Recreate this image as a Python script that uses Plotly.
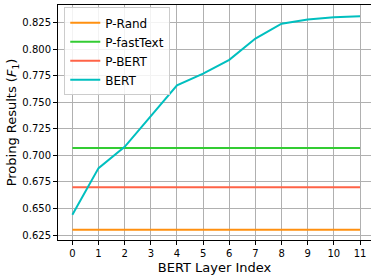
import plotly.graph_objects as go

layers = list(range(12))
bert = [0.644, 0.688, 0.708, 0.737, 0.766, 0.777, 0.790, 0.810, 0.824, 0.828, 0.830, 0.831]
p_rand = [0.630] * 12
p_fasttext = [0.707] * 12
p_bert = [0.670] * 12

series = [
    ("P-Rand", p_rand, "#ff9010"),
    ("P-fastText", p_fasttext, "#33cc33"),
    ("P-BERT", p_bert, "#ff6347"),
    ("BERT", bert, "#00bfbf"),
]

y_ticks = [0.625, 0.650, 0.675, 0.700, 0.725, 0.750, 0.775, 0.800, 0.825]

fig = go.Figure()
for name, vals, col in series:
    fig.add_trace(go.Scatter(x=layers, y=vals, mode="lines", name=name,
                             line=dict(color=col, width=2)))

font_family = "DejaVu Sans"
fig.update_layout(
    width=371, height=275,
    margin=dict(l=58, r=0, t=5, b=35, autoexpand=False),
    paper_bgcolor="white", plot_bgcolor="white",
    font=dict(family=font_family, color="black", size=10),
    showlegend=True,
    legend=dict(x=0.02, y=0.99, xanchor="left", yanchor="top",
                bgcolor="rgba(255,255,255,0.85)", bordercolor="#cccccc", borderwidth=1,
                font=dict(size=12, family=font_family), tracegroupgap=0),
    xaxis=dict(range=[-0.55, 11.42], tickmode="array", tickvals=layers,
               ticktext=[str(v) for v in layers], automargin=False,
               showgrid=True, gridcolor="#b0b0b0", gridwidth=1,
               showline=True, linecolor="black", linewidth=1, mirror=True,
               ticks="outside", ticklen=4, tickcolor="black", zeroline=False,
               tickfont=dict(size=10),
               title=dict(text="BERT Layer Index", font=dict(size=13), standoff=4)),
    yaxis=dict(range=[0.6203, 0.8416], tickmode="array", tickvals=y_ticks,
               ticktext=[f"{v:.3f}" for v in y_ticks], automargin=False,
               showgrid=True, gridcolor="#b0b0b0", gridwidth=1,
               showline=True, linecolor="black", linewidth=1, mirror=False,
               ticks="outside", ticklen=4, tickcolor="black", zeroline=False,
               tickfont=dict(size=10),
               title=dict(text="Probing Results (<i>F</i><sub>1</sub>)", font=dict(size=13), standoff=2)),
)

fig.write_html("out.html", config={"displayModeBar": False},
               post_script="document.body.style.margin='0';document.body.style.overflow='hidden';")
